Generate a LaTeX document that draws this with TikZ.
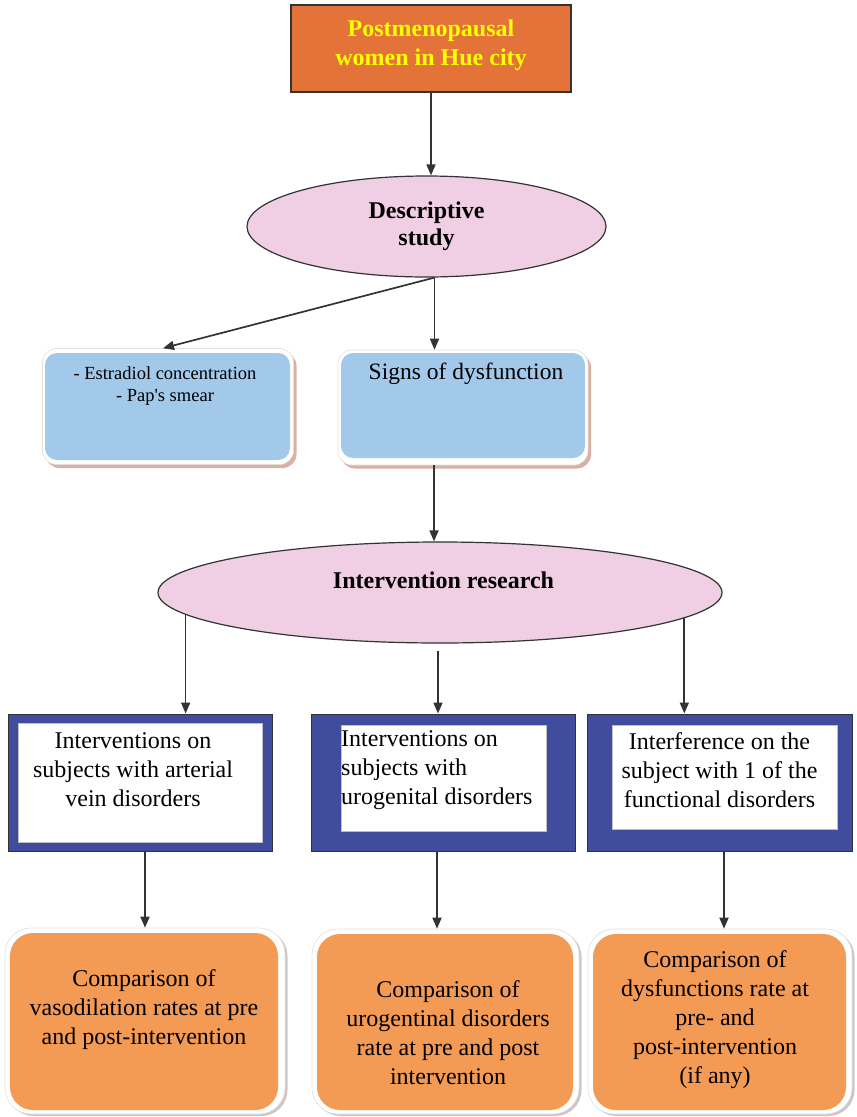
\documentclass[tikz,border=0pt]{standalone}
\usepackage{fontspec}
\setmainfont{Liberation Serif}
\usetikzlibrary{arrows.meta,shapes.geometric,calc}
\definecolor{topor}{HTML}{E37338}
\definecolor{pinkel}{HTML}{F0CEE4}
\definecolor{lblue}{HTML}{A3C9EA}
\definecolor{frameblue}{HTML}{404C9E}
\definecolor{orfill}{HTML}{F39A55}
\definecolor{bshadow}{HTML}{D9B0A2}
\definecolor{oshadow}{HTML}{CFC6C4}
\definecolor{arrcol}{HTML}{333333}
\definecolor{txtyellow}{HTML}{FFFF00}
\tikzset{
  arr/.style={draw=arrcol, line width=1.7pt, -{Triangle[length=11pt,width=9pt]}},
  bigtxt/.style={font=\fontsize{24}{29}\selectfont, align=center, inner sep=0pt, text=black},
  elly/.style={ellipse, draw=arrcol, line width=1.2pt, fill=pinkel, inner sep=0pt},
  rimbox/.style={rectangle, rounded corners=#1, fill=white, draw=black!12, line width=0.6pt, inner sep=0pt},
  fillbox/.style={rectangle, rounded corners=#1, inner sep=0pt},
  framebox/.style={rectangle, fill=frameblue, draw=arrcol, line width=1pt, inner sep=0pt},
  whitebox/.style={rectangle, fill=white, draw=black!25, line width=0.5pt, inner sep=0pt},
}
\begin{document}
\begin{tikzpicture}[x=1pt,y=-1pt]
\useasboundingbox (0,0) rectangle (857,1117);

% top box
\node[rectangle, fill=topor, draw=arrcol, line width=1.2pt, minimum width=280pt, minimum height=87pt, inner sep=0pt] (top) at (431,48.5) {};
\node[bigtxt, font=\fontsize{24}{29}\selectfont\bfseries, text=txtyellow] (topt) at (431,45) {Postmenopausal\\women in Hue city};

% descriptive ellipse
\node[elly, minimum width=359pt, minimum height=101pt] (desc) at (426.5,226.5) {};
\node[bigtxt, font=\fontsize{24}{27}\selectfont\bfseries] (desct) at (426.5,226) {Descriptive\\study};

% left blue box
\node[fillbox=14pt, fill=bshadow, minimum width=251pt, minimum height=116pt] (estsh) at (171,410) {};
\node[rimbox=14pt, minimum width=251pt, minimum height=116pt] (est) at (168,406.5) {};
\node[fillbox=12pt, fill=lblue, minimum width=245pt, minimum height=107pt] (estf) at (167.5,406.5) {};
\node[inner sep=0pt, align=center, font=\fontsize{18.5}{22}\selectfont] (estt) at (165,386) {- Estradiol concentration\\- Pap\textquotesingle s smear};

% signs box
\node[fillbox=14pt, fill=bshadow, minimum width=250pt, minimum height=115pt] (signsh) at (466,411) {};
\node[rimbox=14pt, minimum width=250pt, minimum height=115pt] (signs) at (463,407.5) {};
\node[fillbox=12pt, fill=lblue, minimum width=244pt, minimum height=105pt] (signsf) at (463,405.5) {};
\node[inner sep=0pt, font=\fontsize{23.5}{28}\selectfont] (signst) at (466,374) {Signs of dysfunction};

% intervention ellipse
\node[elly, minimum width=564pt, minimum height=101pt] (inter) at (440,592.5) {};
\node[inner sep=0pt, font=\fontsize{24}{29}\selectfont\bfseries] (intert) at (443.5,580) {Intervention research};

% framed boxes
\node[framebox, minimum width=264pt, minimum height=137pt] (b1) at (140,782.5) {};
\node[whitebox, minimum width=244pt, minimum height=119pt] (w1) at (140,782.5) {};
\node[bigtxt] (t1) at (133,770) {Interventions on\\subjects with arterial\\vein disorders};

\node[framebox, minimum width=264pt, minimum height=137pt] (b2) at (443,782.5) {};
\node[whitebox, minimum width=205pt, minimum height=106pt] (w2) at (443.5,778) {};
\node[bigtxt, align=left, anchor=west] (t2) at (341,770) {Interventions on\\subjects with\\urogenital disorders};

\node[framebox, minimum width=265pt, minimum height=137pt] (b3) at (719.5,782.5) {};
\node[whitebox, minimum width=225pt, minimum height=104pt] (w3) at (724.5,777) {};
\node[bigtxt] (t3) at (719.5,770) {Interference on the\\subject with 1 of the\\functional disorders};

% orange boxes
\node[fillbox=26pt, fill=oshadow, minimum width=280pt, minimum height=186pt] (o1sh) at (147.5,1023) {};
\node[rimbox=26pt, minimum width=280pt, minimum height=186pt] (o1) at (145,1021) {};
\node[fillbox=23pt, fill=orfill, minimum width=268pt, minimum height=177pt] (o1f) at (144,1021.5) {};
\node[bigtxt] (o1t) at (144,1010) {Comparison of\\vasodilation rates at pre\\and post-intervention};

\node[fillbox=26pt, fill=oshadow, minimum width=267pt, minimum height=185pt] (o2sh) at (448,1023.5) {};
\node[rimbox=26pt, minimum width=267pt, minimum height=185pt] (o2) at (445.5,1021.5) {};
\node[fillbox=23pt, fill=orfill, minimum width=256pt, minimum height=176pt] (o2f) at (445,1022) {};
\node[bigtxt] (o2t) at (448,1033) {Comparison of\\urogentinal disorders\\rate at pre and post\\intervention};

\node[fillbox=26pt, fill=oshadow, minimum width=264pt, minimum height=185pt] (o3sh) at (722.5,1023.5) {};
\node[rimbox=26pt, minimum width=264pt, minimum height=185pt] (o3) at (720,1021.5) {};
\node[fillbox=23pt, fill=orfill, minimum width=253pt, minimum height=176pt] (o3f) at (719.5,1022) {};
\node[bigtxt] (o3t) at (715,1020) {Comparison of\\dysfunctions rate at\\pre- and\\post-intervention\\(if any)};

% connectors
\draw[arr] (top.south) -- (top.south |- desc.north);
\draw[arr] ([xshift=8pt]desc.south) -- ([xshift=8pt]desc.south |- signs.north);
\draw[arr] ([xshift=8pt]desc.south) -- ([xshift=-5pt]est.north);
\draw[arr] ([xshift=-29pt]signs.south) -- ([xshift=-29pt]signs.south |- inter.north);
\draw[arr] (inter.185.66) -- (inter.185.66 |- b1.north);
\draw[arr] ([xshift=-2pt,yshift=-7pt]inter.south) -- ([xshift=-2pt]inter.south |- b2.north);
\draw[arr] (inter.354.34) -- (inter.354.34 |- b3.north);
\draw[arr] ([xshift=5pt]b1.south) -- ([xshift=5pt]b1.south |- o1.north);
\draw[arr] ([xshift=-6pt]b2.south) -- ([xshift=-6pt]b2.south |- o2.north);
\draw[arr] ([xshift=4.5pt]b3.south) -- ([xshift=4.5pt]b3.south |- o3.north);
\end{tikzpicture}
\end{document}
